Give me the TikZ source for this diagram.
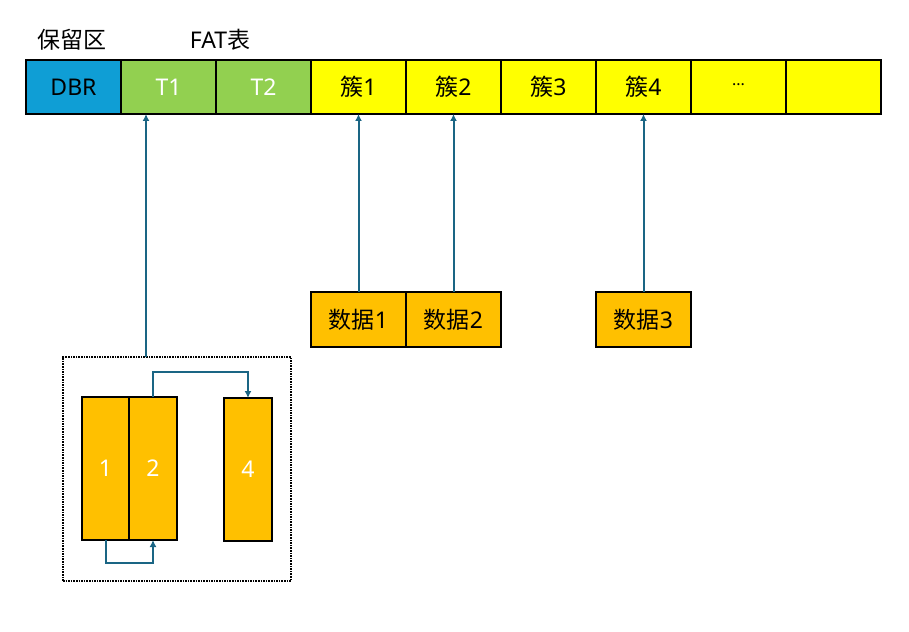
\documentclass[tikz,border=0pt]{standalone}
\usepackage{fontspec}
\setmainfont{Noto Sans}
\newfontfamily\cjk{Noto Sans CJK SC}
\usetikzlibrary{arrows.meta}
\definecolor{bleuDBR}{HTML}{0F9ED5}
\definecolor{vertFAT}{HTML}{92D050}
\definecolor{jauneAmas}{HTML}{FFFF00}
\definecolor{orangeData}{HTML}{FFC000}
\definecolor{fleche}{HTML}{1A6584}
\begin{document}
\begin{tikzpicture}[x=1pt,y=-1pt,
	cellule/.style={draw,line width=2.2pt,minimum width=95pt,minimum height=54pt,inner sep=0pt,outer sep=0pt,font=\fontsize{23}{26}\selectfont},
	donnee/.style={cellule,fill=orangeData,minimum height=55pt},
	bloc/.style={draw,line width=2.2pt,fill=orangeData,minimum width=47pt,minimum height=143pt,inner sep=0pt,outer sep=0pt,text=white,font=\fontsize{23}{26}\selectfont},
	fl/.style={draw=fleche,line width=2pt,-{Latex[length=7pt,width=7pt]}}]
	\useasboundingbox (0,0) rectangle (909,631);
	% les titres
	\node (res) at (72,40) {\fontsize{23}{26}\selectfont\cjk 保留区};
	\node (fat) at (220,40) {\fontsize{23}{26}\selectfont FAT{\cjk 表}};
	% la barre du disque
	\node[cellule,fill=bleuDBR] (dbr) at (73.5,87) {DBR};
	\node[cellule,fill=vertFAT,text=white] (t1) at (168.5,87) {T1};
	\node[cellule,fill=vertFAT,text=white] (t2) at (263.5,87) {T2};
	\node[cellule,fill=jauneAmas] (c1) at (358.5,87) {{\cjk 簇}1};
	\node[cellule,fill=jauneAmas] (c2) at (453.5,87) {{\cjk 簇}2};
	\node[cellule,fill=jauneAmas] (c3) at (548.5,87) {{\cjk 簇}3};
	\node[cellule,fill=jauneAmas] (c4) at (643.5,87) {{\cjk 簇}4};
	\node[cellule,fill=jauneAmas] (c5) at (738.5,87) {\fontsize{16}{18}\selectfont\raisebox{4pt}{...}};
	\node[cellule,fill=jauneAmas] (c6) at (833.5,87) {};
	% les donnees
	\node[donnee] (d1) at (358.5,319.5) {{\cjk 数据}1};
	\node[donnee] (d2) at (453.5,319.5) {{\cjk 数据}2};
	\node[donnee] (d3) at (643.5,319.5) {{\cjk 数据}3};
	\draw[fl] (d1.north) -- (c1.south);
	\draw[fl] (d2.north) -- (c2.south);
	\draw[fl] (d3.north) -- (c4.south);
	% la table FAT
	\node[draw,densely dotted,line width=1.6pt,minimum width=228pt,minimum height=224pt,inner sep=0pt] (grp) at (177,469) {};
	\coordinate (g) at (146,357);
	\draw[fl] (g) -- (g |- t1.south);
	\node[bloc] (b1) at (105.5,468.5) {1};
	\node[bloc,minimum width=48pt] (b2) at (153,468.5) {2};
	\node[bloc,minimum width=48pt] (b4) at (248,469.5) {4};
	\draw[fl] (b2.north) -- ++(0,-25) -| (b4.north);
	\draw[fl] (b1.south) -- ++(0,23) -| (b2.south);
\end{tikzpicture}
\end{document}
